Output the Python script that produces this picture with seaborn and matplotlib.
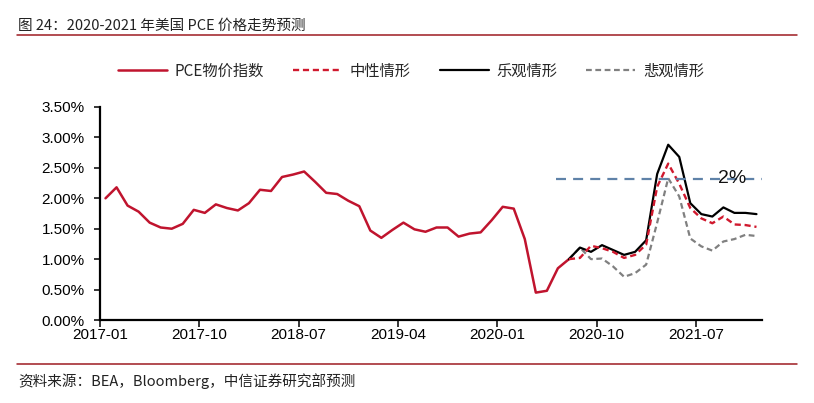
import matplotlib
matplotlib.use("Agg")
import matplotlib.pyplot as plt
import pandas as pd
import seaborn as sns
from matplotlib.lines import Line2D
from matplotlib.ticker import FuncFormatter

# month labels 2017-01 .. 2021-12 (category axis)
months = pd.period_range("2017-01", "2021-12", freq="M").strftime("%Y-%m").tolist()
tick_labels = ["2017-01", "2017-10", "2018-07", "2019-04", "2020-01", "2020-10", "2021-07"]

# PCE price index yoy, 2017-01 .. 2020-07
pce = [2.00, 2.18, 1.88, 1.78, 1.60, 1.52, 1.50, 1.58, 1.81, 1.76,
       1.90, 1.84, 1.80, 1.92, 2.14, 2.12, 2.35, 2.39, 2.44, 2.27,
       2.09, 2.07, 1.96, 1.87, 1.47, 1.35, 1.48, 1.60, 1.49, 1.45,
       1.52, 1.52, 1.37, 1.42, 1.44, 1.64, 1.86, 1.83, 1.33, 0.45,
       0.48, 0.85, 1.00]

# scenarios, 2020-07 .. 2021-12
neutral = [1.00, 1.02, 1.22, 1.18, 1.12, 1.02, 1.07, 1.24, 2.19,
           2.57, 2.24, 1.84, 1.67, 1.59, 1.70, 1.57, 1.56, 1.53]
optimistic = [1.00, 1.19, 1.12, 1.23, 1.15, 1.07, 1.12, 1.31, 2.40,
              2.88, 2.68, 1.92, 1.74, 1.70, 1.85, 1.76, 1.76, 1.74]
pessimistic = [1.00, 1.19, 1.00, 1.01, 0.88, 0.71, 0.77, 0.91, 1.60,
               2.33, 2.03, 1.34, 1.21, 1.14, 1.29, 1.33, 1.40, 1.38]
target_level = 2.32
target_label = "2%"

actual_df = pd.DataFrame({"month": months[:len(pce)], "value": pce})
actual_df["idx"] = range(len(pce))
start = len(pce) - 1
fc_df = pd.DataFrame({"month": months[start:], "neutral": neutral,
                      "optimistic": optimistic, "pessimistic": pessimistic})
fc_df["idx"] = range(start, len(months))

sns.set_theme(style="white")
plt.rcParams["font.family"] = ["Noto Sans CJK SC", "DejaVu Sans"]

RED = "#C0142E"
fig = plt.figure(figsize=(8.14, 4.03), dpi=100)
ax = fig.add_axes([100 / 814, 1 - 320 / 403, 662 / 814, 213 / 403])

sns.lineplot(data=actual_df, x="idx", y="value", ax=ax, color=RED, lw=1.8)
sns.lineplot(data=fc_df, x="idx", y="pessimistic", ax=ax, color="#808080",
             lw=1.6, linestyle=(0, (2.6, 1.6)))
sns.lineplot(data=fc_df, x="idx", y="optimistic", ax=ax, color="black", lw=1.6)
sns.lineplot(data=fc_df, x="idx", y="neutral", ax=ax, color="#D0192E",
             lw=1.7, linestyle=(0, (2.6, 1.6)))

ax.hlines(target_level, 40.8, len(months) - 0.5, color="#5F82A8", lw=1.6,
          linestyles=(0, (4.5, 3.2)))
ax.text(56.8, target_level, target_label, ha="center", va="center",
        fontsize=14, family=["Liberation Sans"], color="#111111")

ax.set_xlim(-0.5, len(months) - 0.5)
ax.set_ylim(0, 3.5)
ax.set_yticks([i * 0.5 for i in range(8)])
ax.yaxis.set_major_formatter(FuncFormatter(lambda v, _: f"{v:.2f}%"))
ax.set_xticks([months.index(m) - 0.5 for m in tick_labels])
ax.set_xticklabels(tick_labels)
ax.set_xlabel("")
ax.set_ylabel("")
for lab in ax.get_xticklabels() + ax.get_yticklabels():
    lab.set_family(["Liberation Sans"])
    lab.set_fontsize(11)
    lab.set_color("black")
ax.tick_params(axis="y", direction="out", length=4, width=1.3, pad=7, left=True)
ax.tick_params(axis="x", direction="out", length=5, width=1.3, pad=1, bottom=True)
sns.despine(ax=ax)
for side in ["left", "bottom"]:
    ax.spines[side].set_color("black")
    ax.spines[side].set_linewidth(1.6)
ax.grid(False)

handles = [
    Line2D([], [], color=RED, lw=1.8),
    Line2D([], [], color="#D0192E", lw=1.7, linestyle=(0, (2.6, 1.6))),
    Line2D([], [], color="black", lw=1.6),
    Line2D([], [], color="#808080", lw=1.6, linestyle=(0, (2.6, 1.6))),
]
labels = ["PCE物价指数", "中性情形", "乐观情形", "悲观情形"]
fig.legend(handles, labels, loc="center", bbox_to_anchor=(411 / 814, 1 - 71 / 403),
           ncol=4, frameon=False, fontsize=11, handlelength=3.2,
           handletextpad=0.5, columnspacing=1.9)

fig.text(18 / 814, 1 - 26 / 403, "图 24：2020-2021 年美国 PCE 价格走势预测",
         fontsize=10.5, va="center", ha="left", color="#222222")
fig.add_artist(Line2D([17 / 814, 797 / 814], [1 - 35 / 403] * 2,
                      color="#9E1B22", lw=1.1))
fig.add_artist(Line2D([17 / 814, 797 / 814], [1 - 364 / 403] * 2,
                      color="#9E1B22", lw=1.1))
fig.text(18 / 814, 1 - 381 / 403, "资料来源：BEA，Bloomberg，中信证券研究部预测",
         fontsize=10.5, va="center", ha="left", color="#222222")

fig.savefig("out.png", dpi=100)
